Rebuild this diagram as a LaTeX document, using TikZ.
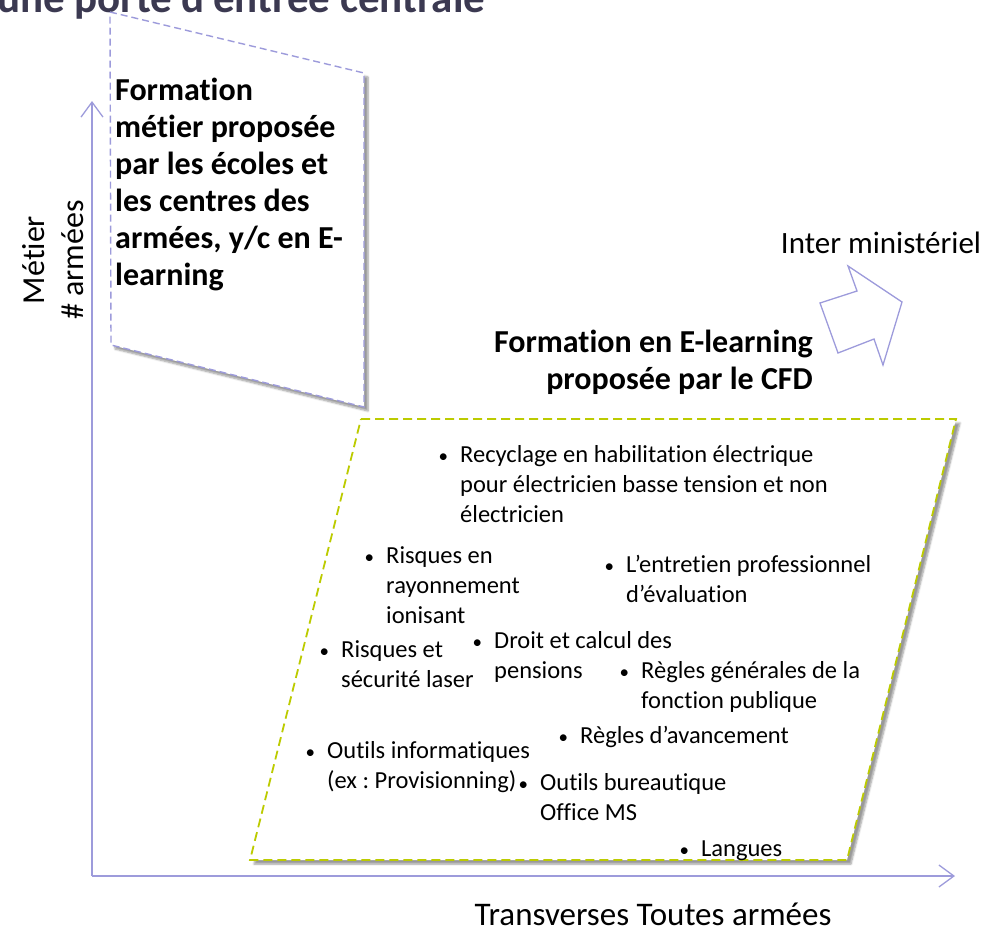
\documentclass[tikz,border=0pt]{standalone}
\usepackage{fontspec}
\setmainfont{Carlito}[Ligatures = NoCommon]
\frenchspacing
\usetikzlibrary{positioning,arrows.meta,shadows.blur}
\definecolor{lavande}{HTML}{9D9BDB}
\definecolor{anis}{HTML}{BCCB00}
\definecolor{ardoise}{HTML}{3B3951}
\tikzset{
    axe/.style = {draw = lavande, line width = 1.3pt, -{Straight Barb[length = 15pt, width = 22pt, line width = 1.3pt]}},
    zone/.style = {fill = white, line width = 1.4pt, blur shadow = {shadow xshift = 4pt, shadow yshift = -4pt, shadow blur steps = 6}},
    titre/.style = {font = \bfseries\fontsize{32}{37}\selectfont, align = left, inner sep = 0, anchor = base west},
    puce/.style = {font = \fontsize{24.5}{30}\selectfont, align = left, inner sep = 0, anchor = base west},
    legende/.style = {font = \fontsize{32}{39}\selectfont, inner sep = 0, align = center}
}
\newcommand{\pastille}{\makebox[0pt][r]{{\fontsize{19}{19}\selectfont\textbullet}\hspace{12pt}}}

\begin{document}
\begin{tikzpicture}[x = 1pt, y = -1pt]
    \useasboundingbox (0,0) rectangle (982,930);
    \clip (0,0) rectangle (982,930);
    % axes
    \coordinate (origine) at (92,876);
    \coordinate (haut) at (92,101);
    \coordinate (droite) at (955,876);
    \draw [axe] (origine) -- (haut);
    \draw [axe] (origine) -- (droite);
    \node [legende, rotate = 90] (metier) at (53,260) {Métier\\\# armées};
    \node [legende, font = \fontsize{33}{39}\selectfont, anchor = base] (transverses) at (653,925) {Transverses Toutes armées};
    % titre coupe
    \node [font = \bfseries\fontsize{43}{46}\selectfont, text = ardoise, inner sep = 0, anchor = base west] (titre) at (-3,12) {une porte d’entrée centrale};
    % zone metier
    \coordinate (m1) at (110,12);
    \coordinate (m2) at (364,73);
    \coordinate (m3) at (364,407);
    \coordinate (m4) at (111,345);
    \filldraw [zone, draw = lavande, dash pattern = on 7pt off 4pt] (m1) -- (m2) -- (m3) -- (m4) -- cycle;
    \node [titre] (formation) at (115,285) {Formation\\métier proposée\\par les écoles et\\les centres des\\armées, y/c en E-\\learning};
    % inter ministeriel
    \node [legende, font = \fontsize{31}{37}\selectfont, anchor = base] (inter) at (881,253) {Inter ministériel};
    \coordinate (f1) at (848,266);
    \coordinate (f2) at (857,291);
    \coordinate (f3) at (820,303);
    \coordinate (f4) at (838,353);
    \coordinate (f5) at (874,339);
    \coordinate (f6) at (883,365);
    \coordinate (f7) at (902,302);
    \draw [lavande, line width = 1.3pt, line join = miter] (f1) -- (f2) -- (f3) -- (f4) -- (f5) -- (f6) -- (f7) -- cycle;
    % zone CFD
    \node [titre, align = right, anchor = base east] (cfd) at (813,389) {Formation en E-learning\\proposée par le CFD};
    \coordinate (c1) at (361,419);
    \coordinate (c2) at (956,419);
    \coordinate (c3) at (847,860);
    \coordinate (c4) at (250,860);
    \filldraw [zone, draw = anis, dash pattern = on 9pt off 5pt, line width = 1.8pt] (c1) -- (c2) -- (c3) -- (c4) -- cycle;
    \node [puce] (recyclage) at (460,522) {\pastille Recyclage en habilitation électrique\\pour électricien basse tension et non\\électricien};
    \node [puce] (rayonnement) at (386,623) {\pastille Risques en\\rayonnement\\ionisant};
    \node [puce] (entretien) at (626,602) {\pastille L’entretien professionnel\\d’évaluation};
    \node [puce] (pensions) at (494,678) {\pastille Droit et calcul des\\pensions};
    \node [puce] (laser) at (341,687) {\pastille Risques et\\sécurité laser};
    \node [puce] (regles) at (641,708) {\pastille Règles générales de la\\fonction publique};
    \node [puce] (avancement) at (580,743) {\pastille Règles d’avancement};
    \node [puce] (informatique) at (327,788) {\pastille Outils informatiques\\(ex : Provisionning)};
    \node [puce] (bureautique) at (540,820) {\pastille Outils bureautique\\Office MS};
    \node [puce] (langues) at (701,856) {\pastille Langues};
\end{tikzpicture}
\end{document}
